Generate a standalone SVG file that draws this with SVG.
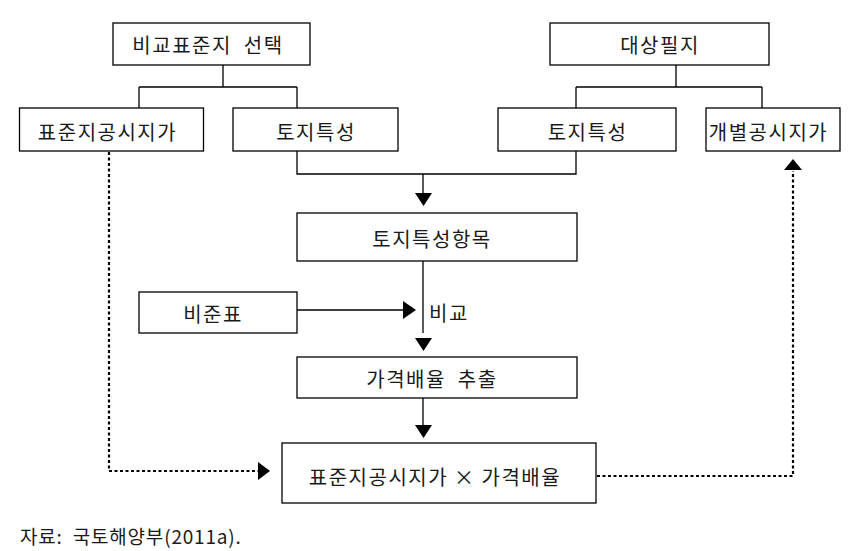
<svg xmlns="http://www.w3.org/2000/svg" width="852" height="551" viewBox="0 0 852 551">
<style>
.box{fill:#fff;stroke:#000;stroke-width:1.3}
.t{font-family:"Noto Sans CJK KR","Noto Sans",sans-serif;font-size:20px;letter-spacing:1.5px;fill:#1a1a1a;text-anchor:middle;dominant-baseline:central}
.ln{fill:none;stroke:#000;stroke-width:1.3}
.dt{fill:none;stroke:#000;stroke-width:2.2;stroke-dasharray:3 2.5}
.ar{fill:#000}
</style>
<rect width="852" height="551" fill="#fff"/>
<g id="connectors">
<path class="ln" d="M223,65 V87 M139,87 H297 M139,87 V108 M297,87 V108"/>
<path class="ln" d="M676,65 V87 M576,87 H762 M576,87 V108 M762,87 V108"/>
<path class="ln" d="M297,151 V174 H576 V151 M423,174 V194"/>
<polygon class="ar" points="415,193 432,193 423.5,206"/>
<path class="ln" d="M423,261 V333"/>
<path class="ln" d="M297,310 H404"/>
<polygon class="ar" points="403,301 416,310 403,319"/>
<polygon class="ar" points="415,338 432,338 423.5,351"/>
<path class="ln" d="M423,398 V426"/>
<polygon class="ar" points="415,425 432,425 423.5,438"/>
<path class="dt" d="M109,152 V471 H259"/>
<polygon class="ar" points="258,462 270,471 258,480"/>
<path class="dt" d="M597,476 H793 V171"/>
<polygon class="ar" points="784,170 802,170 793,159"/>
</g>
<g id="n1"><rect class="box" x="113" y="23" width="197" height="42"/><text class="t" x="208" y="44">비교표준지&#160; 선택</text></g>
<g id="n2"><rect class="box" x="550" y="23" width="219" height="42"/><text class="t" x="660" y="44">대상필지</text></g>
<g id="n3"><rect class="box" x="19.5" y="108" width="184" height="43"/><text class="t" x="107.5" y="131">표준지공시지가</text></g>
<g id="n4"><rect class="box" x="233" y="108" width="165" height="43"/><text class="t" x="316" y="131">토지특성</text></g>
<g id="n5"><rect class="box" x="498" y="108" width="178" height="43"/><text class="t" x="587.5" y="131">토지특성</text></g>
<g id="n6"><rect class="box" x="706" y="108" width="134" height="43"/><text class="t" x="768.5" y="131">개별공시지가</text></g>
<g id="n7"><rect class="box" x="297" y="213" width="280" height="48"/><text class="t" x="432" y="238">토지특성항목</text></g>
<g id="n8"><rect class="box" x="139" y="292" width="158" height="41"/><text class="t" x="213" y="313">비준표</text></g>
<text class="t" x="449" y="312">비교</text>
<g id="n9"><rect class="box" x="297" y="357" width="280" height="41"/><text class="t" x="432" y="378">가격배율&#160; 추출</text></g>
<g id="n10"><rect class="box" x="282" y="443" width="314" height="60"/><text class="t" x="435" y="476">표준지공시지가 × 가격배율</text></g>
<text x="20" y="535" style="font-family:'Noto Sans CJK KR','Noto Sans',sans-serif;font-size:19px;letter-spacing:0.8px;fill:#1a1a1a;dominant-baseline:central">자료:&#160; 국토해양부(2011a).</text>
</svg>
